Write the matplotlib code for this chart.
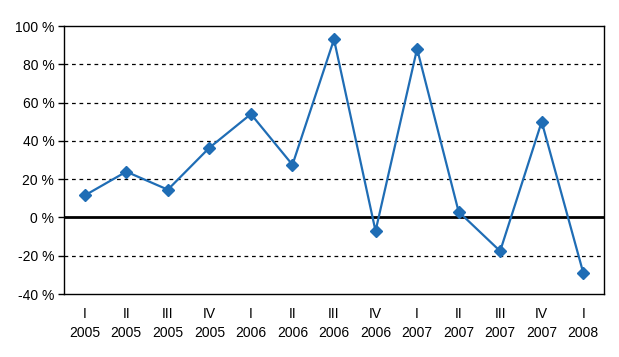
import matplotlib.pyplot as plt

# Quarterly change, %
quarters = ["I", "II", "III", "IV", "I", "II", "III", "IV", "I", "II", "III", "IV", "I"]
years = ["2005", "2005", "2005", "2005", "2006", "2006", "2006", "2006",
         "2007", "2007", "2007", "2007", "2008"]
values = [11.5, 23.9, 14.5, 36.4, 54.0, 27.5, 93.0, -7.1, 88.1, 3.0, -17.6, 50.0, -28.9]

plt.rcParams['font.family'] = ['Liberation Sans', 'DejaVu Sans']

fig = plt.figure(figsize=(6.19, 3.57), dpi=100)
ax = fig.add_axes([64 / 619, 63 / 357, 540 / 619, 268 / 357])

x = list(range(len(values)))
ax.plot(x, values, color="#1F6DB5", linewidth=1.6, marker="D", markersize=6, zorder=3)

ax.set_xlim(-0.5, len(values) - 0.5)
ax.set_ylim(-40, 100)
ax.set_yticks(range(-40, 101, 20))
ax.set_yticklabels([f"{v} %" for v in range(-40, 101, 20)], fontsize=10)
ax.set_xticks(x)
ax.set_xticklabels([f"{q}\n{y}" for q, y in zip(quarters, years)], fontsize=10,
                   linespacing=1.5)
ax.tick_params(axis="x", length=0, pad=9)
ax.tick_params(axis="y", length=4, width=1, direction="out", pad=3)

# dashed gridlines, solid zero line
for v in [-20, 20, 40, 60, 80]:
    ax.axhline(v, color="black", linestyle=(0, (3, 3)), linewidth=0.9, zorder=1)
ax.axhline(0, color="black", linewidth=2, zorder=2)

for s in ax.spines.values():
    s.set_linewidth(1)
    s.set_color("black")

fig.savefig("out.png", dpi=100)
